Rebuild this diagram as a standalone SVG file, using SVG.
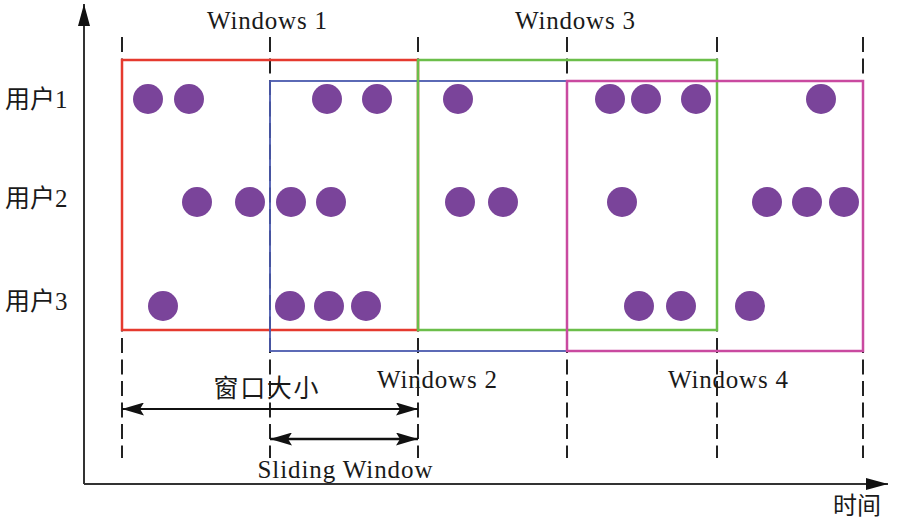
<svg xmlns="http://www.w3.org/2000/svg" width="899" height="521" viewBox="0 0 899 521">
<defs>
<style>
.lbl{font-family:"Liberation Serif","Noto Sans CJK SC",serif;fill:#1a1a1a}
.win{font-size:25px;text-anchor:middle}
.usr{font-size:25px}
.dash{stroke:#222;stroke-width:2;stroke-dasharray:15 6.5;fill:none}
.axis{stroke:#333;stroke-width:2;fill:none}
.dot{fill:#7A449A}
.box{fill:none}
</style>
<marker id="ah" viewBox="0 0 22 13" refX="22" refY="6.5" markerWidth="22" markerHeight="13" markerUnits="userSpaceOnUse" orient="auto-start-reverse">
<path d="M0,0 L22,6.5 L0,13 L4,6.5 Z" fill="#111"/>
</marker>
<marker id="axh" viewBox="0 0 22 12" refX="22" refY="6" markerWidth="22" markerHeight="12" markerUnits="userSpaceOnUse" orient="auto">
<path d="M0,0 L22,6 L0,12 Z" fill="#111"/>
</marker>
</defs>
<rect width="899" height="521" fill="#fff"/>

<g id="axes">
<line class="axis" x1="84" y1="484" x2="84" y2="4" marker-end="url(#axh)"/>
<line class="axis" x1="84" y1="484" x2="888" y2="484" marker-end="url(#axh)"/>
</g>

<g id="gridlines">
<line class="dash" x1="122" y1="37" x2="122" y2="458"/>
<line class="dash" x1="270" y1="37" x2="270" y2="458"/>
<line class="dash" x1="418" y1="37" x2="418" y2="458"/>
<line class="dash" x1="567" y1="37" x2="567" y2="458"/>
<line class="dash" x1="717" y1="37" x2="717" y2="458"/>
<line class="dash" x1="863" y1="37" x2="863" y2="458" stroke-width="2.6"/>
</g>

<g id="window1"><rect class="box" x="122" y="60" width="296" height="270" stroke="#E53A2E" stroke-width="2.5"/></g>
<g id="window2"><rect class="box" x="270" y="81" width="297" height="270" stroke="#4B5AAE" stroke-width="1.8"/></g>
<g id="window3"><rect class="box" x="418" y="60" width="299" height="270" stroke="#6BBE4A" stroke-width="2.5"/></g>
<g id="window4"><rect class="box" x="567" y="81" width="296" height="270" stroke="#C94AA0" stroke-width="2.5"/></g>

<g id="events-user1">
<circle class="dot" cx="148" cy="99" r="15"/>
<circle class="dot" cx="189" cy="99" r="15"/>
<circle class="dot" cx="327" cy="99" r="15"/>
<circle class="dot" cx="377" cy="99" r="15"/>
<circle class="dot" cx="458" cy="99" r="15"/>
<circle class="dot" cx="610" cy="99" r="15"/>
<circle class="dot" cx="646" cy="99" r="15"/>
<circle class="dot" cx="696" cy="99" r="15"/>
<circle class="dot" cx="821" cy="99" r="15"/>
</g>
<g id="events-user2">
<circle class="dot" cx="197" cy="202" r="15"/>
<circle class="dot" cx="250" cy="202" r="15"/>
<circle class="dot" cx="291" cy="202" r="15"/>
<circle class="dot" cx="331" cy="202" r="15"/>
<circle class="dot" cx="460" cy="202" r="15"/>
<circle class="dot" cx="503" cy="202" r="15"/>
<circle class="dot" cx="622" cy="202" r="15"/>
<circle class="dot" cx="767" cy="202" r="15"/>
<circle class="dot" cx="807" cy="202" r="15"/>
<circle class="dot" cx="844" cy="202" r="15"/>
</g>
<g id="events-user3">
<circle class="dot" cx="163" cy="306" r="15"/>
<circle class="dot" cx="290" cy="306" r="15"/>
<circle class="dot" cx="329" cy="306" r="15"/>
<circle class="dot" cx="366" cy="306" r="15"/>
<circle class="dot" cx="639" cy="306" r="15"/>
<circle class="dot" cx="681" cy="306" r="15"/>
<circle class="dot" cx="750" cy="306" r="15"/>
</g>

<g id="connectors">
<line x1="122" y1="409" x2="418" y2="409" stroke="#111" stroke-width="2" marker-start="url(#ah)" marker-end="url(#ah)"/>
<line x1="270" y1="439" x2="418" y2="439" stroke="#111" stroke-width="2.5" marker-start="url(#ah)" marker-end="url(#ah)"/>
</g>

<g id="labels">
<text class="lbl usr" x="5" y="108">用户1</text>
<text class="lbl usr" x="5" y="207">用户2</text>
<text class="lbl usr" x="5" y="310">用户3</text>
<text class="lbl win" x="267" y="29" textLength="120" lengthAdjust="spacing">Windows 1</text>
<text class="lbl win" x="575" y="29" textLength="120" lengthAdjust="spacing">Windows 3</text>
<text class="lbl win" x="437" y="388" textLength="120" lengthAdjust="spacing">Windows 2</text>
<text class="lbl win" x="728" y="388" textLength="120" lengthAdjust="spacing">Windows 4</text>
<text class="lbl" x="266" y="397" font-size="25" text-anchor="middle" textLength="105" lengthAdjust="spacing">窗口大小</text>
<text class="lbl" x="345" y="478" font-size="25" text-anchor="middle" textLength="175" lengthAdjust="spacing">Sliding Window</text>
<text class="lbl" x="833" y="514" font-size="24">时间</text>
</g>
</svg>
